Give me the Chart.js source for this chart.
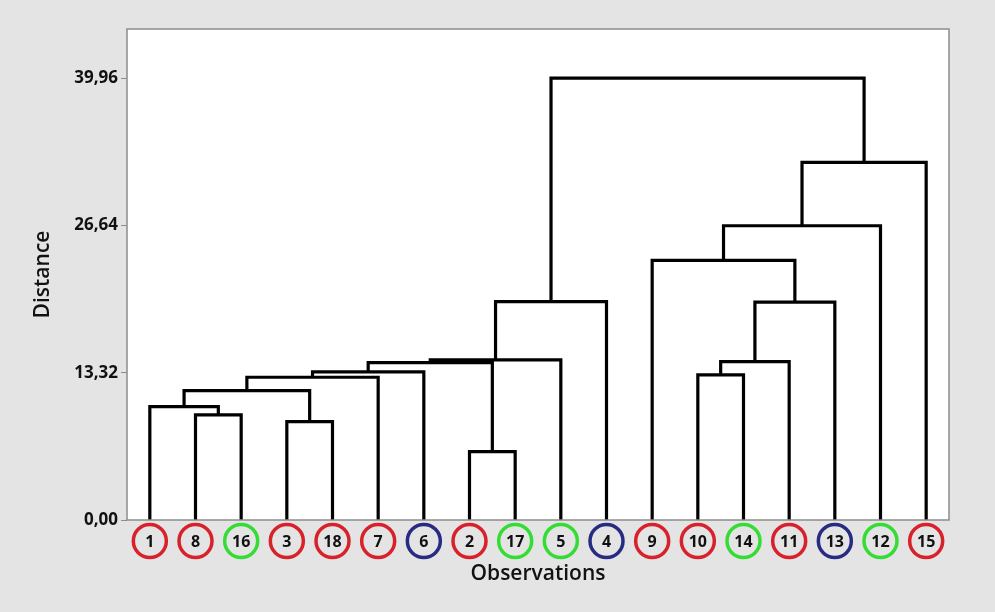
<!DOCTYPE html>
<html lang="en">
<head>
    <meta charset="UTF-8">
    <title>Dendrogram - Distance</title>
    <script src="https://cdn.jsdelivr.net/npm/chart.js"></script>
    <style>
        html, body {
            margin: 0;
            padding: 0;
            background: #e4e4e4;
        }
        #wrap {
            width: 995px;
            height: 612px;
            position: relative;
        }
    </style>
</head>
<body>
    <div id="wrap"><canvas id="myChart"></canvas></div>

    <script>
        // leaves from left to right, and the group colour of each observation
        const leafOrder = [1, 8, 16, 3, 18, 7, 6, 2, 17, 5, 4, 9, 10, 14, 11, 13, 12, 15];
        const leafGroup = ['red', 'red', 'green', 'red', 'red', 'red', 'blue', 'red', 'green',
                           'green', 'blue', 'red', 'red', 'green', 'red', 'blue', 'green', 'red'];
        const groupColors = { red: '#d8222b', green: '#35dc35', blue: '#272b82' };

        // linkage: leaves are 1..18, each merge creates cluster 19, 20, ...
        const mergeLeft   = [2, 3, 8, 1, 22, 23, 10, 24, 26, 25, 27, 28, 29, 9, 32, 33, 31];
        const mergeRight  = [17, 18, 16, 21, 20, 7, 14, 6, 19, 11, 5, 13, 4, 30, 12, 15, 34];
        const mergeHeight = [6.18, 8.90, 9.50, 10.25, 11.70, 12.91, 13.12, 13.39, 14.24,
                             14.33, 14.48, 19.70, 19.75, 23.47, 26.61, 32.34, 39.96];

        const distanceTicks = [0, 13.32, 26.64, 39.96];
        const yMax = 44.4;

        // position and height of every node
        const nodeX = {};
        const nodeH = {};
        leafOrder.forEach((obs, i) => { nodeX[obs] = i + 1; nodeH[obs] = 0; });

        const datasets = [];
        mergeLeft.forEach((l, k) => {
            const r = mergeRight[k];
            const h = mergeHeight[k];
            const id = leafOrder.length + 1 + k;
            nodeX[id] = (nodeX[l] + nodeX[r]) / 2;
            nodeH[id] = h;
            datasets.push({
                data: [
                    { x: nodeX[l], y: nodeH[l] },
                    { x: nodeX[l], y: h },
                    { x: nodeX[r], y: h },
                    { x: nodeX[r], y: nodeH[r] }
                ],
                showLine: true,
                borderColor: '#000',
                borderWidth: 3.2,
                borderJoinStyle: 'miter',
                pointRadius: 0,
                fill: false
            });
        });

        // frame of the plot and the coloured rings round the leaf labels
        const decorations = {
            id: 'decorations',
            beforeDraw(chart) {
                const a = chart.chartArea;
                const ctx = chart.ctx;
                ctx.save();
                ctx.fillStyle = '#ffffff';
                ctx.fillRect(a.left, a.top, a.right - a.left, a.bottom - a.top);
                ctx.restore();
            },
            afterDraw(chart) {
                const a = chart.chartArea;
                const ctx = chart.ctx;
                const xs = chart.scales.x;
                ctx.save();
                ctx.strokeStyle = '#8c8c8c';
                ctx.lineWidth = 1.5;
                ctx.strokeRect(a.left, a.top, a.right - a.left, a.bottom - a.top);
                ctx.lineWidth = 3.5;
                leafOrder.forEach((obs, i) => {
                    ctx.strokeStyle = groupColors[leafGroup[i]];
                    ctx.beginPath();
                    ctx.arc(xs.getPixelForValue(i + 1), 541, 16.5, 0, Math.PI * 2);
                    ctx.stroke();
                });
                ctx.restore();
            }
        };

        const ctx = document.getElementById('myChart').getContext('2d');
        new Chart(ctx, {
            type: 'scatter',
            data: { datasets: datasets },
            options: {
                responsive: true,
                maintainAspectRatio: false,
                animation: false,
                layout: { padding: { left: 0, right: 46, top: 29, bottom: 0 } },
                plugins: {
                    legend: { display: false },
                    tooltip: { enabled: false }
                },
                scales: {
                    x: {
                        type: 'linear',
                        min: 0.5,
                        max: leafOrder.length + 0.5,
                        afterBuildTicks: scale => {
                            scale.ticks = leafOrder.map((obs, i) => ({ value: i + 1 }));
                        },
                        afterFit: scale => { scale.height = 92; },
                        grid: { display: false },
                        border: { display: false },
                        ticks: {
                            autoSkip: false,
                            maxRotation: 0,
                            padding: 5,
                            color: '#111',
                            font: { family: 'Open Sans', size: 16, weight: 'bold' },
                            callback: (v) => leafOrder[Math.round(v) - 1]
                        },
                        title: {
                            display: true,
                            text: 'Observations',
                            color: '#111',
                            font: { family: 'Open Sans', size: 21, weight: '600' },
                            padding: { top: 0, bottom: 25 }
                        }
                    },
                    y: {
                        min: 0,
                        max: yMax,
                        afterBuildTicks: scale => {
                            scale.ticks = distanceTicks.map(v => ({ value: v }));
                        },
                        afterFit: scale => { scale.width = 127; },
                        grid: {
                            drawOnChartArea: false,
                            drawTicks: true,
                            tickLength: 6,
                            color: '#8c8c8c'
                        },
                        border: { display: false },
                        ticks: {
                            padding: 3,
                            color: '#111',
                            font: { family: 'Open Sans', size: 17, weight: 'bold' },
                            callback: v => v.toFixed(2).replace('.', ',')
                        },
                        title: {
                            display: true,
                            text: 'Distance',
                            color: '#111',
                            font: { family: 'Open Sans', size: 21, weight: '600' },
                            padding: { top: 30, bottom: 0 }
                        }
                    }
                }
            },
            plugins: [decorations]
        });
    </script>
</body>
</html>
